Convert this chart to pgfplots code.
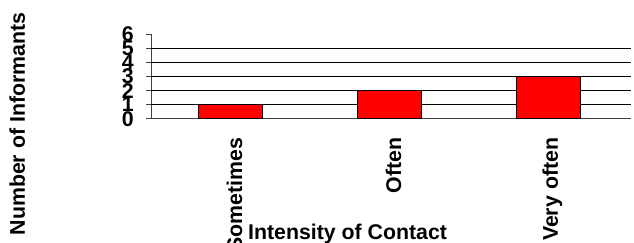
\documentclass[border=0pt]{standalone}
\usepackage{pgfplots}
\pgfplotsset{compat=1.18}
\usepackage{fontspec}
\setmainfont{Liberation Sans}
\begin{document}
\begin{tikzpicture}
\clip (-151pt,-124.3pt) rectangle (483pt,118.7pt);
\begin{axis}[
  scale only axis,
  width=480pt, height=84.4pt,
  xmin=-0.5, xmax=2.52, ymin=0, ymax=6,
  enlargelimits=false,
  axis x line*=bottom, axis y line*=left,
  axis line style={draw=black!75, line width=0.9pt},
  ybar, bar width=64pt,
  xtick={0,1,2},
  xticklabels={Sometimes,Often,Very often},
  major x tick style={draw=none},
  extra x ticks={-0.5,0.5,1.5,2.5},
  extra x tick labels={},
  extra x tick style={tick align=outside, major tick length=6pt, tick style={draw=black!75, line width=0.9pt}},
  ytick={0,1,2,3,4,5,6},
  y tick style={draw=black!75, line width=0.9pt},
  tick align=outside, major tick length=5pt,
  extra y ticks={1,2,3,4,5},
  extra y tick labels={},
  extra y tick style={grid=major, major tick length=0pt},
  major grid style={draw=black, line width=0.8pt},
  /pgf/number format/assume math mode=true,
  tick label style={font=\fontsize{21.3}{23}\selectfont\bfseries, text=black},
  yticklabel style={anchor=east, inner sep=0pt, xshift=-12pt},
  xticklabel style={rotate=90, anchor=east, inner sep=0pt, xshift=-14pt, yshift=-4pt},
  xlabel={Intensity of Contact},
  ylabel={Number of Informants},
  label style={font=\fontsize{21.3}{23}\selectfont\bfseries},
  xlabel style={at={(axis description cs:0.202,-1.437)}, anchor=base west, inner sep=0pt},
  ylabel style={at={(axis description cs:-0.2625,-0.063)}, anchor=base, inner sep=0pt, rotate=0},
]
\addplot[fill=red, draw=black, line width=1.5pt] coordinates {(0,1) (1,2) (2,3)};
\end{axis}
\end{tikzpicture}
\end{document}
